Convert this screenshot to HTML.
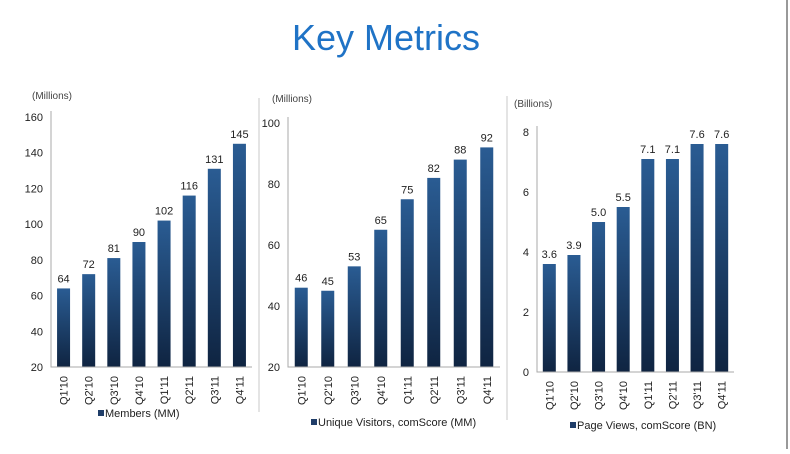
<!DOCTYPE html>
<html><head><meta charset="utf-8"><style>
body{margin:0;background:#fff;}
svg text{font-family:"Liberation Sans",sans-serif;}
</style></head><body>
<svg id="s" width="790" height="449" xmlns="http://www.w3.org/2000/svg">
<defs><linearGradient id="g" x1="0" y1="0" x2="0" y2="1"><stop offset="0" stop-color="#2a5c93"/><stop offset="1" stop-color="#0f2441"/></linearGradient></defs>
<text x="386" y="50" text-anchor="middle" font-size="36" fill="#1f73c6">Key Metrics</text>
<line x1="259" y1="98" x2="259" y2="412" stroke="#c8c8c8"/>
<line x1="507" y1="96" x2="507" y2="420" stroke="#c8c8c8"/>
<line x1="787" y1="0" x2="787" y2="449" stroke="#999" stroke-width="2"/>
</svg>
<script>
const categories=["Q1'10","Q2'10","Q3'10","Q4'10","Q1'11","Q2'11","Q3'11","Q4'11"];
const membersValues=[64,72,81,90,102,116,131,145];
const membersLabels=["64","72","81","90","102","116","131","145"];
const membersTicks=[20,40,60,80,100,120,140,160];
const visitorsValues=[46,45,53,65,75,82,88,92];
const visitorsLabels=["46","45","53","65","75","82","88","92"];
const visitorsTicks=[20,40,60,80,100];
const pageViewsValues=[3.6,3.9,5.0,5.5,7.1,7.1,7.6,7.6];
const pageViewsLabels=["3.6","3.9","5.0","5.5","7.1","7.1","7.6","7.6"];
const pageViewsTicks=[0,2,4,6,8];
const svg=document.getElementById('s');
const NS='http://www.w3.org/2000/svg';
function mk(tag,attrs,txt){const e=document.createElementNS(NS,tag);for(const k in attrs)e.setAttribute(k,attrs[k]);if(txt!==undefined)e.textContent=txt;svg.appendChild(e);return e;}
function chart(cfg,vals,labels,ticks){
  const min=ticks[0],max=ticks[ticks.length-1];
  const y=v=>cfg.base-(v-min)/(max-min)*(cfg.base-cfg.top);
  const step=(cfg.x1-cfg.x0)/categories.length;
  const xc=i=>cfg.x0+step*(i+0.5);
  let e=mk('text',{x:cfg.unitX,y:cfg.unitY,'font-size':10,fill:'#444'},cfg.unit);
  
  
  ticks.forEach(t=>{const el=mk('text',{x:cfg.x0-8,y:y(t)+4,'font-size':11,fill:'#222','text-anchor':'end'},String(t));
    
    });
  vals.forEach((v,i)=>{
    const r=mk('rect',{x:xc(i)-6.5,y:y(v),width:13,height:cfg.base-y(v),fill:'url(#g)'});
    
    
    const l=mk('text',{x:xc(i),y:y(v)-6,'font-size':11,fill:'#222','text-anchor':'middle'},labels[i]);
    
    
    const c=mk('text',{x:0,y:0,'font-size':11,fill:'#222','text-anchor':'end',transform:`translate(${xc(i)+4},${cfg.base+9}) rotate(-90)`},categories[i]);
    
    
  });
  const ax=mk('path',{d:`M${cfg.x0} ${cfg.top-6}V${cfg.base}H${cfg.x1}`,stroke:'#aaa',fill:'none'});
  
  
  const sw=mk('rect',{x:cfg.legX,y:cfg.legY-7,width:6,height:6,fill:'#1f3d68'});
  
  
  const lt=mk('text',{x:cfg.legX+7,y:cfg.legY,'font-size':11,fill:'#222'},cfg.legend);
  
  
}
chart({id:'members',x0:51,x1:252,top:117,base:367,unit:'(Millions)',unitX:32,unitY:99,legX:98,legY:417,legend:'Members (MM)'},membersValues,membersLabels,membersTicks);
chart({id:'visitors',x0:288,x1:500,top:123,base:367,unit:'(Millions)',unitX:272,unitY:102,legX:311,legY:426,legend:'Unique Visitors, comScore (MM)'},visitorsValues,visitorsLabels,visitorsTicks);
chart({id:'pageviews',x0:537,x1:734,top:132,base:372,unit:'(Billions)',unitX:514,unitY:107,legX:570,legY:429,legend:'Page Views, comScore (BN)'},pageViewsValues,pageViewsLabels,pageViewsTicks);
</script>
</body></html>
